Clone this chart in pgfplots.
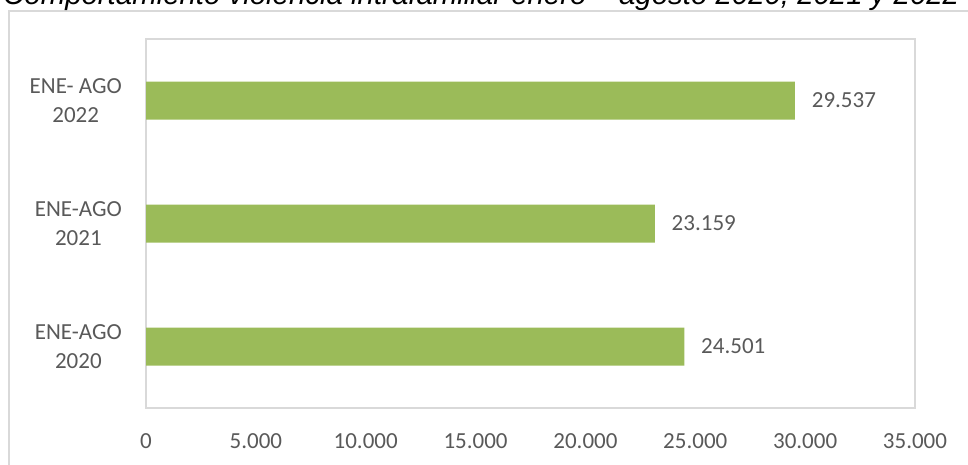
\documentclass[border=0pt]{standalone}
\usepackage{fontspec}
\setmainfont{Carlito}
\newfontfamily\titlefont{Liberation Sans}
\usepackage{pgfplots}
\pgfplotsset{compat=1.18}
\definecolor{bargreen}{HTML}{9BBB59}
\definecolor{txtgray}{HTML}{595959}
\definecolor{framegray}{HTML}{D9D9D9}

\begin{document}
\begin{tikzpicture}[x=1pt,y=1pt]
\path[use as bounding box] (0,0) rectangle (968,464);
% chart area frame (cut at right and bottom)
\draw[framegray, line width=1.5pt] (9,-20) -- (9,453) -- (990,453);
\node[anchor=base west, inner sep=0pt, font=\titlefont\itshape\fontsize{29.4}{34}\selectfont]
  at (3,459) {Comportamiento violencia intrafamiliar enero – agosto 2020, 2021 y 2022};
\begin{axis}[
  at={(146pt,56pt)}, anchor=south west,
  scale only axis, width=769pt, height=369pt,
  xbar, bar width=38pt,
  xmin=0, xmax=35000, ymin=-0.5, ymax=2.5,
  xtick={0,5000,10000,15000,20000,25000,30000,35000},
  scaled x ticks=false,
  ytick={0,1,2},
  yticklabels={{ENE-AGO\\2020},{ENE-AGO\\2021},{ENE- AGO\\2022}},
  major tick length=0pt,
  axis line style={framegray, line width=1.5pt},
  tick label style={font=\fontsize{23}{29}\selectfont, text=txtgray, inner sep=0pt},
  x tick label style={anchor=north, yshift=-25.5pt},
  y tick label style={anchor=east, align=center, xshift=-24pt},
  /pgf/number format/1000 sep={.},
  /pgf/number format/assume math mode=true,
  point meta=x,
  nodes near coords,
  nodes near coords style={anchor=west, inner sep=0pt, xshift=16.7pt,
    font=\fontsize{23}{29}\selectfont, text=txtgray},
]
\addplot[fill=bargreen, draw=none] coordinates {(24501,0) (23159,1) (29537,2)};
\end{axis}
\end{tikzpicture}
\end{document}
